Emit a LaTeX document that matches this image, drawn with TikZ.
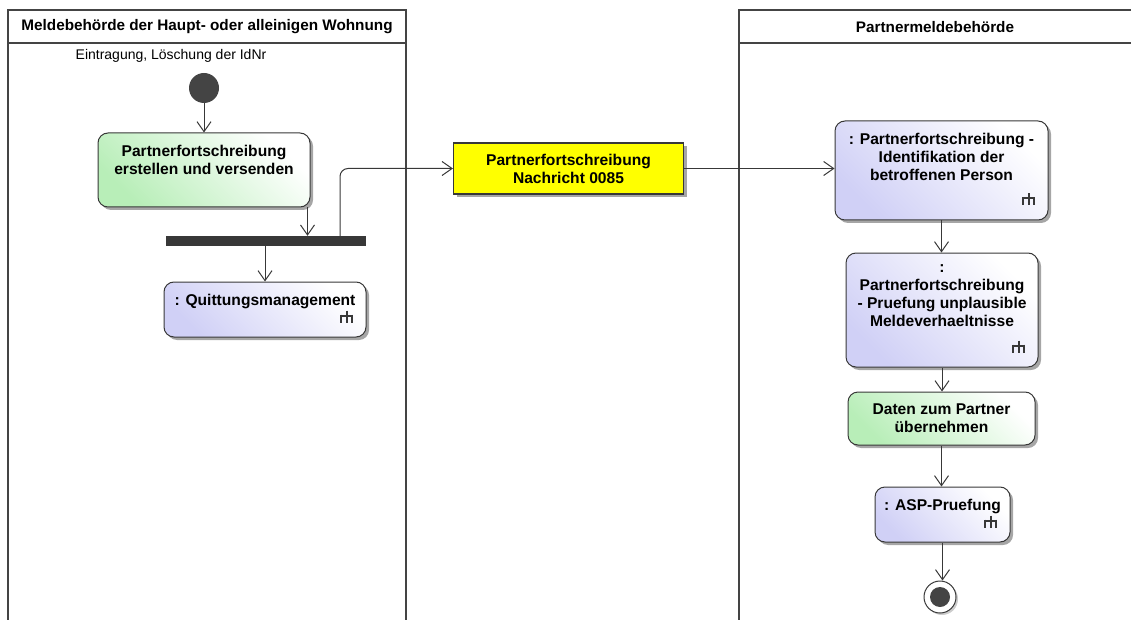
\documentclass[tikz,border=0pt]{standalone}
\usepackage{fontspec}
\setmainfont{Liberation Sans}
\usetikzlibrary{arrows.meta,positioning,shadows}
\definecolor{ugray}{HTML}{383838}
\definecolor{ulane}{HTML}{444444}
\definecolor{ugreen}{HTML}{B8EEB8}
\definecolor{uviolet}{HTML}{D0D0F6}
\definecolor{uyellow}{HTML}{FFFF00}
\tikzset{
  ushadow/.style={drop shadow={shadow xshift=3pt,shadow yshift=-3pt,fill=black!35,opacity=1}},
  act/.style={draw=ugray,line width=1pt,rounded corners=10pt,left color=ugreen,right color=white,shading angle=135,ushadow,inner sep=0pt},
  call/.style={act,left color=uviolet,right color=white,shading angle=135},
  obj/.style={draw=ugray,line width=1.2pt,fill=uyellow,ushadow,align=center,font=\fontsize{15.6}{18}\selectfont\bfseries},
  txt/.style={align=center,inner sep=2pt,font=\fontsize{15.6}{18}\selectfont\bfseries},
  forkbar/.style={fill=ugray,inner sep=0pt},
  lane/.style={draw=ulane,line width=2pt},
  lanehd/.style={font=\fontsize{15.3}{17}\selectfont\bfseries},
  lbl/.style={font=\fontsize{14}{17}\selectfont},
  arr/.style={-{Straight Barb[length=10pt,width=14pt]},line width=1pt,draw=ugray},
  rake/.pic={\draw[line width=2pt,draw=ugray] (-5.5,0) -- (5.5,0) (-5.5,-1) -- (-5.5,7) (0,-5) -- (0,7) (5.5,-1) -- (5.5,7);},
}
\begin{document}
\begin{tikzpicture}[x=1pt,y=-1pt]
  \useasboundingbox (0,0) rectangle (1131,620);
  % swimlanes
  \draw[lane] (8,625) |- (406,10) -- (406,625);
  \draw[lane] (8,43) -- (406,43);
  \draw[lane] (739,625) |- (1136,10);
  \draw[lane] (739,43) -- (1136,43);
  \node[lanehd] (laneA) at (207,27) {Meldebehörde der Haupt- oder alleinigen Wohnung};
  \node[lanehd] (laneB) at (935,27) {Partnermeldebehörde};

  % left lane
  \node[lbl] (trigger) at (171,56) {Eintragung, Löschung der IdNr};
  \node[circle,fill=ulane,minimum size=30pt,inner sep=0pt] (start) at (204,88) {};
  \node[act,minimum width=212pt,minimum height=74pt] (a1) at (204,170) {};
  \node[txt,below=10pt of a1.north] (a1t) {Partnerfortschreibung\\erstellen und versenden};
  \node[forkbar,minimum width=200pt,minimum height=10pt] (fork) at (266,241) {};
  \node[call,minimum width=202pt,minimum height=55pt] (c1) at (265,309.5) {};
  \node[txt,below=10pt of c1.north] (c1t) {: Quittungsmanagement};
  \pic at ([xshift=-20pt,yshift=22pt]c1.south east) {rake};
  \coordinate (bend) at (340,170);

  % object
  \node[obj,minimum width=230pt,minimum height=51pt] (msg) at (568.5,168.5) {Partnerfortschreibung\\Nachricht 0085};

  % right lane
  \node[call,minimum width=213pt,minimum height=99pt] (c2) at (941.5,170.5) {};
  \node[txt,below=10pt of c2.north] (c2t) {: Partnerfortschreibung -\\Identifikation der\\betroffenen Person};
  \pic at ([xshift=-20pt,yshift=22pt]c2.south east) {rake};
  \node[call,minimum width=192pt,minimum height=114pt] (c3) at (942,310) {};
  \node[txt,below=10pt of c3.north] (c3t) {:\\Partnerfortschreibung\\- Pruefung unplausible\\Meldeverhaeltnisse};
  \pic at ([xshift=-20pt,yshift=22pt]c3.south east) {rake};
  \node[act,minimum width=187pt,minimum height=53pt] (a2) at (941.5,418.5) {};
  \node[txt,below=10pt of a2.north] (a2t) {Daten zum Partner\\übernehmen};
  \node[call,minimum width=135pt,minimum height=55pt] (c4) at (942.5,514.5) {};
  \node[txt,below=10pt of c4.north] (c4t) {: ASP-Pruefung};
  \pic at ([xshift=-20pt,yshift=22pt]c4.south east) {rake};
  \node[circle,draw=ugray,line width=1pt,fill=white,minimum size=32pt,inner sep=0pt,drop shadow={shadow xshift=2pt,shadow yshift=-2pt,fill=black!20,opacity=1}] (end) at (940,597) {};
  \node[circle,fill=ulane,minimum size=20pt,inner sep=0pt] (endin) at (end) {};

  % flows
  \draw[arr] (start) -- (a1);
  \draw[arr] ([xshift=-3pt]a1.south east) -- ([xshift=-3pt]a1.south east |- fork.north);
  \draw[arr] (fork.south -| c1.north) -- (c1.north);
  \draw[arr,rounded corners=8pt] (bend |- fork.north) |- (msg.west);
  \draw[arr] (msg.east) -- (msg.east -| c2.west);
  \draw[arr] (c2.south) -- (c2.south |- c3.north);
  \draw[arr] (c3.south) -- (c3.south |- a2.north);
  \draw[arr] (a2.south) -- (a2.south |- c4.north);
  \draw[arr] (c4.south) -- (c4.south |- end.north);
\end{tikzpicture}
\end{document}
